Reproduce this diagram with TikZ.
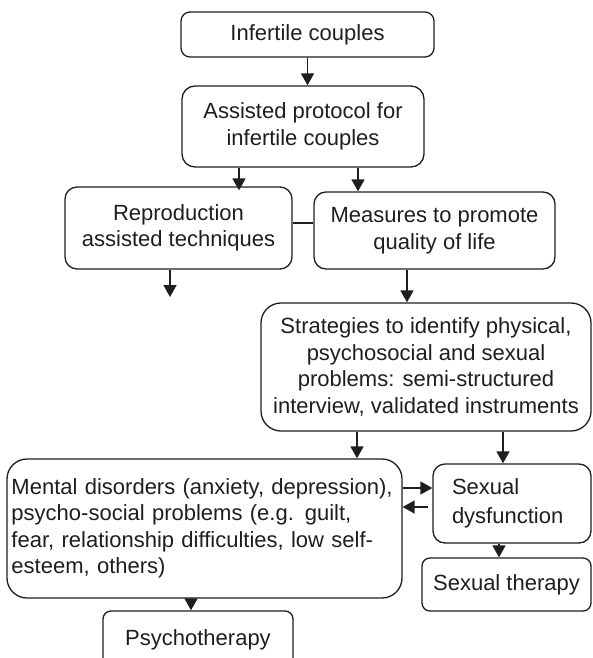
\documentclass[tikz,border=0pt]{standalone}
\usepackage{fontspec}
\setmainfont{Liberation Sans}
\usetikzlibrary{arrows.meta}
\definecolor{ink}{HTML}{1E1E1E}
\begin{document}
\begin{tikzpicture}[x=1pt,y=-1pt,
  every node/.style={font=\fontsize{22}{26.5}\selectfont, text=ink},
  box/.style={draw=ink, line width=1.3pt, inner sep=0pt, align=center},
  arr/.style={draw=ink, line width=1.6pt, -{Triangle[length=12pt,width=13pt]}},
  ln/.style={draw=ink, line width=1.3pt}]
\useasboundingbox (0,0) rectangle (592,658);
\node[box, rounded corners=9pt, minimum width=253pt, minimum height=45pt] (b1) at (307.5,34.5) {Infertile couples};
\node[box, rounded corners=13pt, minimum width=242pt, minimum height=81pt] (b2) at (303,126.5) {Assisted protocol for\\infertile couples};
\node[box, rounded corners=12pt, minimum width=227pt, minimum height=82pt] (b3) at (178.5,228) {Reproduction\\assisted techniques};
\node[box, rounded corners=12pt, minimum width=241pt, minimum height=77pt] (b4) at (434.5,230.5) {Measures to promote\\quality of life};
\node[box, rounded corners=20pt, minimum width=330pt, minimum height=128pt] (b5) at (426,367) {Strategies to identify physical,\\psychosocial and sexual\\problems: semi-structured\\interview, validated instruments};
\node[box, rounded corners=20pt, align=left, text width=386pt, inner xsep=4.5pt, minimum height=139pt] (b6) at (204.5,528.5) {Mental disorders (anxiety, depression),\\psycho-social problems (e.g. guilt,\\fear, relationship difficulties, low self-\\esteem, others)};
\node[box, rounded corners=12pt, align=left, text width=120pt, inner xsep=19pt, minimum height=79pt, font=\fontsize{22}{29.5}\selectfont] (b7) at (512,503.5) {Sexual\\dysfunction};
\node[box, rounded corners=8pt, minimum width=169pt, minimum height=53pt] (b8) at (506.5,584.5) {Sexual therapy};
\node[box, rounded corners=8pt, minimum width=190pt, minimum height=57pt] (b9) at (198,639.5) {Psychotherapy};
\coordinate (e3) at (170,297);
\draw[arr] (b1.south) -- (b1.south |- b2.north);
\draw[arr] ([xshift=-64pt]b2.south) -- ([xshift=-64pt,yshift=-4pt]b2.south |- b3.north);
\draw[arr] ([xshift=55pt]b2.south) -- ([xshift=55pt]b2.south |- b4.north);
\draw[arr] (b3.south -| e3) -- (e3);
\draw[ln] ([yshift=5pt]b3.east) -- ([yshift=5pt]b3.east -| b4.west);
\draw[arr] ([xshift=-27.5pt]b4.south) -- ([xshift=-27.5pt]b4.south |- b5.north);
\draw[arr] ([xshift=-69pt]b5.south) -- ([xshift=-69pt]b5.south |- b6.north);
\draw[arr] ([xshift=77pt]b5.south) -- ([xshift=77pt]b5.south |- b7.north);
\draw[arr] ([yshift=40.5pt]b6.east) -- ([yshift=40.5pt]b6.east -| b7.west);
\draw[arr, shorten <=4pt] ([yshift=-3.5pt]b7.west) -- ([yshift=-3.5pt]b7.west -| b6.east);
\draw[arr] ([xshift=-13pt]b7.south) -- ([xshift=-13pt]b7.south |- b8.north);
\draw[arr] ([xshift=-13.5pt]b6.south) -- ([xshift=-13.5pt]b6.south |- b9.north);
\end{tikzpicture}
\end{document}
